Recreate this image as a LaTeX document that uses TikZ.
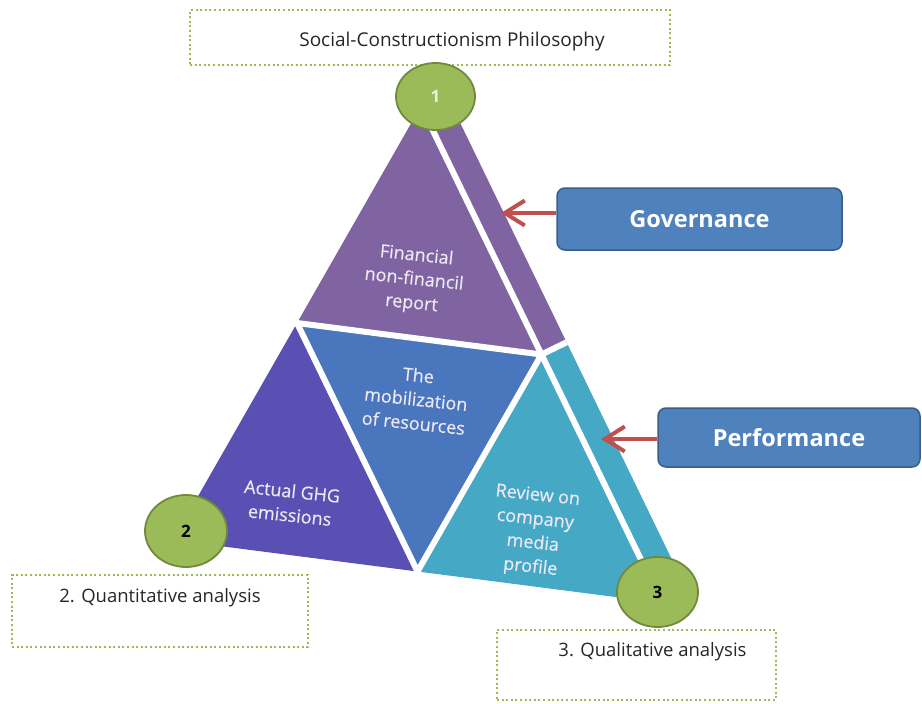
\documentclass[tikz,border=0pt]{standalone}
\usepackage{fontspec}
\setmainfont{Open Sans}
\newfontfamily\heavyface{Open Sans}[FakeBold=0.5]
\usetikzlibrary{shapes.geometric,arrows.meta,calc}

\definecolor{topPurple}{HTML}{8064A2}
\definecolor{leftIndigo}{HTML}{5A4FB3}
\definecolor{midBlue}{HTML}{4A76BD}
\definecolor{rightAqua}{HTML}{45A9C6}
\definecolor{badgeGreen}{HTML}{9BBB59}
\definecolor{badgeEdge}{HTML}{71893F}
\definecolor{tagBlue}{HTML}{4F81BD}
\definecolor{tagEdge}{HTML}{385D8A}
\definecolor{arrowRed}{HTML}{C0504D}
\definecolor{labelLight}{HTML}{ECE8F6}
\definecolor{badgeLight}{HTML}{EAF2D8}

\begin{document}
\begin{tikzpicture}[x=1pt,y=-1pt,
  dotbox/.style={draw=badgeGreen, line width=2pt, dash pattern=on 2pt off 2.6pt, rectangle, inner sep=0pt},
  boxtext/.style={font=\fontsize{18.5}{22}\selectfont, text=black!85},
  badge/.style={ellipse, fill=badgeGreen, draw=badgeEdge, line width=1.8pt, inner sep=0pt,
                font=\fontsize{17}{19}\selectfont\bfseries},
  segtext/.style={align=center, text=labelLight, rotate=-6, font=\heavyface\fontsize{18}{24}\selectfont},
  tag/.style={rectangle, rounded corners=8pt, fill=tagBlue, draw=tagEdge, line width=1.5pt,
              text=white, font=\fontsize{23.5}{26}\selectfont\bfseries},
  pointer/.style={draw=arrowRed, line width=4pt, -{Straight Barb[length=20pt,width=25pt,line width=4pt]}},
  gap/.style={draw=white, line width=6pt}
]
\useasboundingbox (0,0) rectangle (922,704);

% caption frames
\node[dotbox, minimum width=480, minimum height=55] (philo) at (430,37.5) {};
\node[boxtext, font=\fontsize{19}{22}\selectfont] (philoText) at ($(philo.center)+(22,4)$) {Social-Constructionism Philosophy};
\node[dotbox, minimum width=296, minimum height=72] (quant) at (160,611) {};
\node[boxtext] (quantText) at ($(quant.center)+(0,-13)$) {2. Quantitative analysis};
\node[dotbox, minimum width=279, minimum height=70] (qual) at (636.5,665) {};
\node[boxtext] (qualText) at ($(qual.center)+(16,-13)$) {3. Qualitative analysis};

% pyramid corners and edge midpoints
\coordinate (A) at (421,106);
\coordinate (B) at (173,540);
\coordinate (C) at (662,603);
\coordinate (AB) at ($(A)!0.5!(B)$);
\coordinate (AC) at ($(A)!0.5!(C)$);
\coordinate (BC) at ($(B)!0.5!(C)$);
\coordinate (cut) at ($(AC)+(25.1,-12.2)$);

% side strip
\fill[topPurple] (A) -- ($(A)+(31,0)$) -- (cut) -- (AC) -- cycle;
\fill[rightAqua] (AC) -- (cut) -- ($(C)+(31,0)$) -- (C) -- cycle;

% four faces
\fill[topPurple] (A) -- (AB) -- (AC) -- cycle;
\fill[leftIndigo] (AB) -- (B) -- (BC) -- cycle;
\fill[midBlue] (AB) -- (AC) -- (BC) -- cycle;
\fill[rightAqua] (AC) -- (BC) -- (C) -- cycle;

% separating gaps
\draw[gap] (A) -- (C);
\draw[gap] (AB) -- (AC);
\draw[gap] (AB) -- (BC);
\draw[gap] (AC) -- (BC);
\draw[gap] (AC) -- (cut);

% face labels
\node[segtext] (fin) at (414,280) {Financial\\non-financil\\report};
\node[segtext] (mob) at (416,399) {The\\mobilization\\of resources};
\node[segtext] (ghg) at (291,503) {Actual GHG\\emissions};
\node[segtext] (rev) at (534,532) {Review on\\company\\media\\profile};

% numbered badges
\node[badge, minimum width=79, minimum height=67, text=badgeLight] (one) at (435.5,96.5) {1};
\node[badge, minimum width=82, minimum height=72] (two) at (186,531) {2};
\node[badge, minimum width=81, minimum height=70] (three) at (657.5,592) {3};

% side tags with pointers
\node[tag, minimum width=285, minimum height=62] (gov) at (699.5,219) {Governance};
\node[tag, minimum width=262, minimum height=59] (perf) at (789,437.5) {Performance};
\coordinate (govTip) at (501,213);
\coordinate (perfTip) at (601,439);
\draw[pointer] (govTip -| gov.west) -- (govTip);
\draw[pointer] (perfTip -| perf.west) -- (perfTip);
\end{tikzpicture}
\end{document}
